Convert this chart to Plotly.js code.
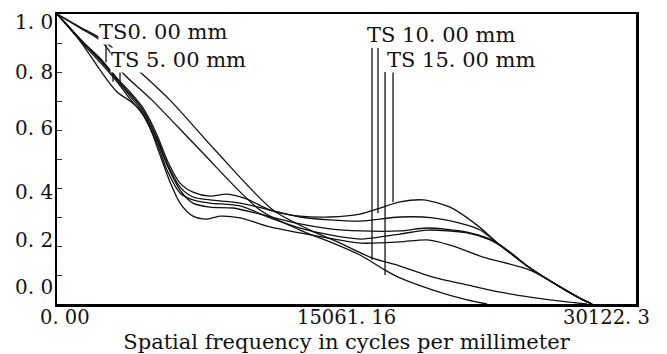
<!DOCTYPE html>
<html>
<head>
<meta charset="utf-8">
<script src="https://cdn.plot.ly/plotly-3.0.1.min.js"></script>
<style>html,body{margin:0;padding:0;background:#fff;}#chart{width:667px;height:354px;}</style>
</head>
<body>
<div id="chart"></div>
<script>
// Spatial frequency (cycles/mm) and MTF
var ts0Freq   = [0,676,1457,2237,3122,3798,4318,4839,5359,5879,6400,7076,7805,8481,9521,11082,12643,14048,15765,17846,19251,20448,22165,24610,26171,27368,27836];
var ts0Mtf    = [1.0,0.952,0.883,0.807,0.731,0.700,0.669,0.607,0.514,0.421,0.348,0.303,0.293,0.303,0.297,0.266,0.245,0.228,0.210,0.214,0.221,0.203,0.162,0.117,0.059,0.014,0.0];

var ts5TFreq  = [0,1353,2237,3122,3798,4475,5203,5723,6400,7076,7961,9157,10562,12643,14204,15765,17846,19251,21332,22373,23049,24610,26171,27368,27836];
var ts5TMtf   = [1.0,0.903,0.841,0.772,0.717,0.662,0.566,0.479,0.393,0.348,0.334,0.331,0.310,0.276,0.259,0.252,0.252,0.262,0.248,0.228,0.203,0.124,0.059,0.014,0.0];

var ts5SFreq  = [0,1353,2237,3122,3798,4475,5203,5723,6400,7076,7961,9521,11082,12643,14204,15765,17846,19251,21332,22529,23570,24610,26171,27368,27836];
var ts5SMtf   = [1.0,0.897,0.834,0.766,0.707,0.652,0.555,0.462,0.383,0.359,0.348,0.338,0.297,0.262,0.238,0.224,0.241,0.255,0.245,0.221,0.179,0.124,0.059,0.014,0.0];

var ts10TFreq = [0,1353,2237,3122,3798,4475,5203,5723,6400,7076,7961,9521,11082,12643,14204,15765,17846,19563,21332,22009,23049,24610,26171,27368,27836];
var ts10TMtf  = [1.0,0.903,0.845,0.776,0.724,0.669,0.572,0.486,0.403,0.369,0.359,0.348,0.324,0.300,0.290,0.286,0.300,0.297,0.272,0.255,0.203,0.124,0.059,0.014,0.0];

var ts10SFreq = [0,1197,2237,3018,3694,4214,5879,8221,11238,13164,14724,16389,17846,19563,21332,23049,24610,26535,27576];
var ts10SMtf  = [1.0,0.955,0.917,0.876,0.841,0.807,0.703,0.531,0.324,0.255,0.210,0.159,0.131,0.093,0.066,0.041,0.024,0.007,0.0];

var ts15TFreq = [0,1353,2237,3122,3798,4475,5203,5723,6400,7076,7961,8845,9886,11082,12643,14204,15765,16805,17846,19043,20448,21853,23049,24610,26171,27368,27836];
var ts15TMtf  = [1.0,0.903,0.848,0.779,0.731,0.676,0.583,0.497,0.417,0.386,0.372,0.379,0.362,0.324,0.303,0.300,0.310,0.331,0.352,0.359,0.334,0.272,0.203,0.124,0.059,0.014,0.0];

var ts15SFreq = [0,1197,2237,2862,3382,4943,7440,10562,12643,14204,15765,17066,17846,19563,21332,22373];
var ts15SMtf  = [1.0,0.952,0.910,0.859,0.800,0.703,0.531,0.324,0.255,0.214,0.169,0.117,0.090,0.048,0.014,0.0];

// Field labels and their leader lines (frequency, top MTF, bottom MTF)
var fieldLabels   = ['TS0. 00 mm','TS 5. 00 mm','TS 10. 00 mm','TS 15. 00 mm'];
var labelFreq     = [2133, 2758, 16077, 17118];
var labelMtf      = [0.938, 0.841, 0.928, 0.841];
var leaderFreq    = [2550, 2914, 3278, 16389, 16701, 17066, 17482];
var leaderTop     = [0.903, 0.807, 0.807, 0.883, 0.883, 0.800, 0.800];
var leaderBottom  = [0.834, 0.766, 0.766, 0.152, 0.314, 0.100, 0.352];

// Axis tick labels
var xTickVals = [0, 15061.16, 30122.3];
var xTickText = ['0. 00', '15061. 16', '30122. 3'];
var yTickVals = [0, 0.2, 0.4, 0.6, 0.8, 1.0];
var yTickText = ['0. 0', '0. 2', '0. 4', '0. 6', '0. 8', '1. 0'];

var FONT = 'DejaVu Serif, Liberation Serif, serif';
var series = [
  [ts0Freq, ts0Mtf], [ts5TFreq, ts5TMtf], [ts5SFreq, ts5SMtf],
  [ts10TFreq, ts10TMtf], [ts10SFreq, ts10SMtf], [ts15TFreq, ts15TMtf], [ts15SFreq, ts15SMtf]
];
var traces = series.map(function(s){
  return {x: s[0], y: s[1], type: 'scatter', mode: 'lines',
          line: {color: '#111', width: 1.3, shape: 'spline', smoothing: 0.8},
          hoverinfo: 'skip', showlegend: false};
});

var shapes = leaderFreq.map(function(f, i){
  return {type: 'line', xref: 'x', yref: 'y', x0: f, x1: f, y0: leaderTop[i], y1: leaderBottom[i],
          line: {color: '#111', width: 1.3}};
});

var annotations = [];
fieldLabels.forEach(function(t, i){
  annotations.push({x: labelFreq[i], y: labelMtf[i], xref: 'x', yref: 'y', text: t, showarrow: false,
    xanchor: 'left', yanchor: 'middle', bgcolor: '#fff', borderpad: 0,
    font: {family: FONT, size: 21, color: '#111'}});
});
var xShift = [8, 0, -30];
xTickVals.forEach(function(v, i){
  annotations.push({x: v, y: 0, xref: 'x', yref: 'paper', text: xTickText[i], showarrow: false,
    xanchor: 'center', yanchor: 'middle', xshift: xShift[i], yshift: -13,
    font: {family: FONT, size: 19.5, color: '#111'}});
});
var yShift = [17, 6, -4, 2, 0, -8];
yTickVals.forEach(function(v, i){
  annotations.push({x: 0, y: v, xref: 'paper', yref: 'y', text: yTickText[i], showarrow: false,
    xanchor: 'right', yanchor: 'middle', xshift: -2, yshift: yShift[i],
    font: {family: FONT, size: 20, color: '#111'}});
});

var layout = {
  width: 667, height: 354,
  margin: {l: 57, r: 31, t: 14, b: 50},
  paper_bgcolor: '#fff', plot_bgcolor: '#fff',
  showlegend: false,
  xaxis: {range: [0, 30122.3], showgrid: false, zeroline: false, showline: true, mirror: true,
          linecolor: '#000', linewidth: 2.5, ticks: '', showticklabels: false,
          title: {text: 'Spatial frequency in cycles per millimeter', standoff: 31,
                  font: {family: FONT, size: 21, color: '#111'}}},
  yaxis: {range: [0, 1.0], showgrid: false, zeroline: false, showline: true, mirror: true,
          linecolor: '#000', linewidth: 2.5, ticks: 'inside', ticklen: 5, tickcolor: '#333',
          dtick: 0.1, tick0: 0, showticklabels: false},
  shapes: shapes,
  annotations: annotations
};
Plotly.newPlot('chart', traces, layout, {displayModeBar: false, staticPlot: true});
</script>
</body>
</html>
